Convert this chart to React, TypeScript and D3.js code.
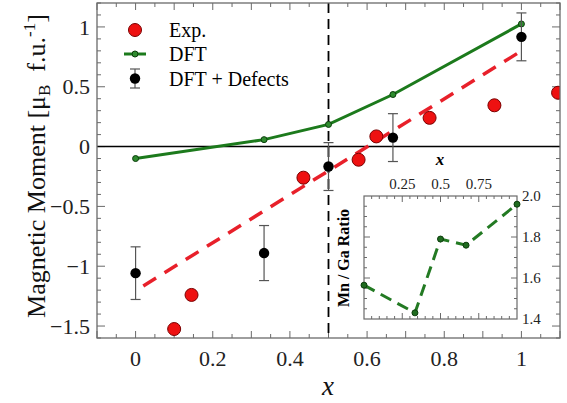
import { useEffect, useRef } from "react"
import * as d3 from "d3"

// experimental moments
const expX = [0.1, 0.145, 0.435, 0.578, 0.624, 0.762, 0.93, 1.095]
const expY = [-1.525, -1.24, -0.26, -0.11, 0.085, 0.24, 0.345, 0.45]

// DFT (ideal)
const dftX = [0, 0.333, 0.5, 0.667, 1]
const dftY = [-0.1, 0.058, 0.185, 0.435, 1.025]

// DFT + defects, with error bars
const defX = [0, 0.333, 0.5, 0.667, 1]
const defY = [-1.058, -0.89, -0.167, 0.075, 0.917]
const defErr = [0.22, 0.23, 0.2, 0.2, 0.2]

// linear fit of experiment (red dashed)
const fitX = [0.02, 1]
const fitY = [-1.165, 0.8]

// inset: Mn / Ga ratio
const ratioX = [0, 0.333, 0.5, 0.667, 1]
const ratioY = [1.565, 1.43, 1.79, 1.76, 1.96]

const xTicks = [0, 0.2, 0.4, 0.6, 0.8, 1]
const yTicks = [-1.5, -1, -0.5, 0, 0.5, 1]
const insetXTicks = [0.25, 0.5, 0.75]
const insetYTicks = [1.4, 1.6, 1.8, 2.0]

const FONT = "'Liberation Serif', 'Times New Roman', serif"
const FRAME = "#6a6a6a"

const W = 567
const H = 403

const App = () => {
  const svgRef = useRef<SVGSVGElement>(null)

  useEffect(() => {
    const svg = d3.select(svgRef.current)
    svg.selectAll("*").remove()

    const left = 97, right = 560, top = 3, bottom = 338
    const x = d3.scaleLinear().domain([-0.1, 1.1]).range([left, right])
    const y = d3.scaleLinear().domain([-1.6, 1.2]).range([bottom, top])

    svg.append("rect").attr("width", W).attr("height", H).attr("fill", "white")

    svg.append("clipPath").attr("id", "plotClip")
      .append("rect").attr("x", left).attr("y", top).attr("width", right - left).attr("height", bottom - top)

    // ticks (inward on all four sides)
    const minorX = d3.range(-2, 23).map((i) => i * 0.05)
    const minorY = d3.range(-16, 13).map((i) => i * 0.1)
    const g = svg.append("g").attr("stroke", FRAME).attr("stroke-width", 1)
    minorX.forEach((v) => {
      const major = Math.abs(Math.round(v * 10) - v * 10) < 1e-6
      const len = major ? 7 : 4
      g.append("line").attr("x1", x(v)).attr("x2", x(v)).attr("y1", bottom).attr("y2", bottom - len)
      g.append("line").attr("x1", x(v)).attr("x2", x(v)).attr("y1", top).attr("y2", top + len)
    })
    minorY.forEach((v) => {
      const major = Math.abs(Math.round(v * 2) - v * 2) < 1e-6
      const len = major ? 8 : 4
      g.append("line").attr("y1", y(v)).attr("y2", y(v)).attr("x1", left).attr("x2", left + len)
      g.append("line").attr("y1", y(v)).attr("y2", y(v)).attr("x1", right).attr("x2", right - len)
    })

    const fmt = d3.format("~g")
    svg.append("g").selectAll("text").data(xTicks).join("text")
      .attr("x", (d) => x(d)).attr("y", 366)
      .attr("text-anchor", "middle")
      .style("font-family", FONT).style("font-size", "22px").attr("fill", "#222")
      .text((d) => fmt(d))
    svg.append("g").selectAll("text").data(yTicks).join("text")
      .attr("x", 90).attr("y", (d) => y(d)).attr("dy", "0.35em")
      .attr("text-anchor", "end")
      .style("font-family", FONT).style("font-size", "22px").attr("fill", "#222")
      .text((d) => fmt(d))

    const plot = svg.append("g").attr("clip-path", "url(#plotClip)")

    // zero line and x = 0.5 marker
    plot.append("line").attr("x1", left).attr("x2", right).attr("y1", y(0)).attr("y2", y(0))
      .attr("stroke", "black").attr("stroke-width", 1.6)
    plot.append("line").attr("x1", x(0.5)).attr("x2", x(0.5)).attr("y1", top).attr("y2", bottom)
      .attr("stroke", "black").attr("stroke-width", 1.8).attr("stroke-dasharray", "10,6")

    // fit line
    const fitLine = d3.line<number>().x((d) => x(d)).y((_, i) => y(fitY[i]))
    plot.append("path").datum(fitX).attr("d", fitLine)
      .attr("fill", "none").attr("stroke", "#e8202a").attr("stroke-width", 3.5).attr("stroke-dasharray", "15,10")

    // DFT line
    const dftLine = d3.line<number>().x((d) => x(d)).y((_, i) => y(dftY[i]))
    plot.append("path").datum(dftX).attr("d", dftLine)
      .attr("fill", "none").attr("stroke", "#1c7a1c").attr("stroke-width", 3)
    plot.append("g").selectAll("circle").data(dftX).join("circle")
      .attr("cx", (d) => x(d)).attr("cy", (_, i) => y(dftY[i])).attr("r", 3)
      .attr("fill", "#2e8b2e").attr("stroke", "#0b3d0b").attr("stroke-width", 1)

    // experiment
    plot.append("g").selectAll("circle").data(expX).join("circle")
      .attr("cx", (d) => x(d)).attr("cy", (_, i) => y(expY[i])).attr("r", 6.5)
      .attr("fill", "#ee1111").attr("stroke", "#7a0000").attr("stroke-width", 1)

    // DFT + defects
    const eb = plot.append("g").attr("stroke", "#555").attr("stroke-width", 1.2)
    defX.forEach((d, i) => {
      const y1 = y(defY[i] + defErr[i]), y2 = y(defY[i] - defErr[i])
      eb.append("line").attr("x1", x(d)).attr("x2", x(d)).attr("y1", y1).attr("y2", y2)
      eb.append("line").attr("x1", x(d) - 5).attr("x2", x(d) + 5).attr("y1", y1).attr("y2", y1)
      eb.append("line").attr("x1", x(d) - 5).attr("x2", x(d) + 5).attr("y1", y2).attr("y2", y2)
    })
    plot.append("g").selectAll("circle").data(defX).join("circle")
      .attr("cx", (d) => x(d)).attr("cy", (_, i) => y(defY[i])).attr("r", 5.2).attr("fill", "black")

    // frame
    svg.append("rect").attr("x", left).attr("y", top).attr("width", right - left).attr("height", bottom - top)
      .attr("fill", "none").attr("stroke", FRAME).attr("stroke-width", 1.3)

    // legend
    const lg = svg.append("g").style("font-family", FONT).style("font-size", "20px")
    lg.append("circle").attr("cx", 135).attr("cy", 30).attr("r", 6.5)
      .attr("fill", "#ee1111").attr("stroke", "#7a0000")
    lg.append("text").attr("x", 169).attr("y", 37).text("Exp.")
    lg.append("line").attr("x1", 124).attr("x2", 146).attr("y1", 54).attr("y2", 54)
      .attr("stroke", "#1c7a1c").attr("stroke-width", 3)
    lg.append("circle").attr("cx", 135).attr("cy", 54).attr("r", 3)
      .attr("fill", "#2e8b2e").attr("stroke", "#0b3d0b")
    lg.append("text").attr("x", 169).attr("y", 61).text("DFT")
    const lgEb = lg.append("g").attr("stroke", "#555").attr("stroke-width", 1.2)
    lgEb.append("line").attr("x1", 135).attr("x2", 135).attr("y1", 69).attr("y2", 88)
    lgEb.append("line").attr("x1", 130).attr("x2", 140).attr("y1", 69).attr("y2", 69)
    lgEb.append("line").attr("x1", 130).attr("x2", 140).attr("y1", 88).attr("y2", 88)
    lg.append("circle").attr("cx", 135).attr("cy", 78.5).attr("r", 5.2).attr("fill", "black")
    lg.append("text").attr("x", 169).attr("y", 86).text("DFT + Defects")

    // axis titles
    const yt = svg.append("text")
      .attr("transform", "translate(45,166) rotate(-90)")
      .attr("text-anchor", "middle")
      .style("font-family", FONT).style("font-size", "26px").attr("fill", "#111")
    yt.append("tspan").text("Magnetic Moment [\u03bc")
    yt.append("tspan").attr("dy", 5).style("font-size", "17px").text("B")
    yt.append("tspan").attr("dy", -5).text("\u2002f.u.")
    yt.append("tspan").attr("dy", -10).style("font-size", "17px").text("-1")
    yt.append("tspan").attr("dy", 10).text("]")

    svg.append("text").attr("x", 328).attr("y", 395).attr("text-anchor", "middle")
      .style("font-family", FONT).style("font-size", "27px").style("font-style", "italic").attr("fill", "#111")
      .text("x")

    // inset
    const il = 364, ir = 517, it = 196, ib = 319
    const ix = d3.scaleLinear().domain([0, 1]).range([il, ir])
    const iy = d3.scaleLinear().domain([1.4, 2.0]).range([ib, it])
    const inset = svg.append("g")
    inset.append("rect").attr("x", il).attr("y", it).attr("width", ir - il).attr("height", ib - it)
      .attr("fill", "white").attr("stroke", FRAME).attr("stroke-width", 1.2)
    const ig = inset.append("g").attr("stroke", FRAME).attr("stroke-width", 1)
    d3.range(1, 20).map((i) => i * 0.05).forEach((v) => {
      const len = Math.abs(v * 4 - Math.round(v * 4)) < 1e-6 ? 6 : 3
      ig.append("line").attr("x1", ix(v)).attr("x2", ix(v)).attr("y1", it).attr("y2", it + len)
      ig.append("line").attr("x1", ix(v)).attr("x2", ix(v)).attr("y1", ib).attr("y2", ib - len)
    })
    d3.range(29, 40).map((i) => i * 0.05).forEach((v) => {
      const len = Math.abs(v * 5 - Math.round(v * 5)) < 1e-6 ? 6 : 3
      ig.append("line").attr("y1", iy(v)).attr("y2", iy(v)).attr("x1", il).attr("x2", il + len)
      ig.append("line").attr("y1", iy(v)).attr("y2", iy(v)).attr("x1", ir).attr("x2", ir - len)
    })
    inset.append("g").selectAll("text").data(insetXTicks).join("text")
      .attr("x", (d) => ix(d)).attr("y", 189).attr("text-anchor", "middle")
      .style("font-family", FONT).style("font-size", "15px").attr("fill", "#222")
      .text((d) => fmt(d))
    inset.append("g").selectAll("text").data(insetYTicks).join("text")
      .attr("x", 522).attr("y", (d) => iy(d)).attr("dy", "0.35em")
      .style("font-family", FONT).style("font-size", "15px").attr("fill", "#222")
      .text((d) => d3.format(".1f")(d))

    const ratioLine = d3.line<number>().x((d) => ix(d)).y((_, i) => iy(ratioY[i]))
    inset.append("path").datum(ratioX).attr("d", ratioLine)
      .attr("fill", "none").attr("stroke", "#237a23").attr("stroke-width", 3).attr("stroke-dasharray", "12,7")
    inset.append("g").selectAll("circle").data(ratioX).join("circle")
      .attr("cx", (d) => ix(d)).attr("cy", (_, i) => iy(ratioY[i])).attr("r", 3)
      .attr("fill", "#1f6b1f").attr("stroke", "#0b3d0b")

    inset.append("text").attr("x", 440).attr("y", 165).attr("text-anchor", "middle")
      .style("font-family", FONT).style("font-size", "17px").style("font-style", "italic").style("font-weight", "bold")
      .text("x")
    inset.append("text").attr("transform", "translate(349,258) rotate(-90)").attr("text-anchor", "middle")
      .style("font-family", FONT).style("font-size", "16px").style("font-weight", "bold")
      .text("Mn / Ga Ratio")
  }, [])

  return <svg ref={svgRef} width={W} height={H} style={{ position: "absolute", left: 0, top: 0 }}></svg>
}

export default App
